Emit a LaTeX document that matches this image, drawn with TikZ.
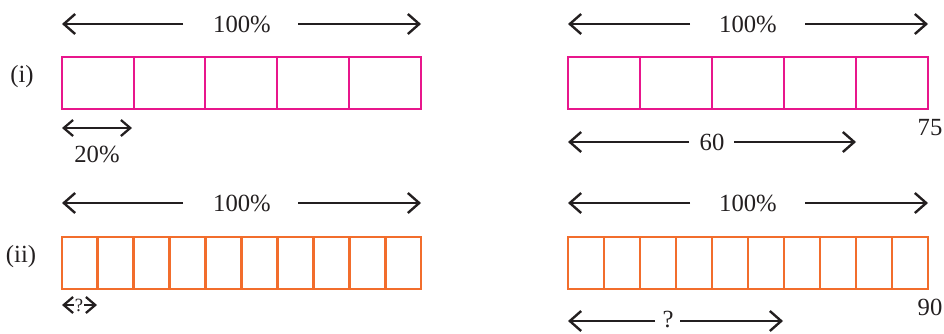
\documentclass[tikz,border=0pt]{standalone}
\usepackage{fontspec}
\setmainfont{Liberation Serif}
\usetikzlibrary{arrows.meta}
\definecolor{mag}{HTML}{E8168C}
\definecolor{org}{HTML}{F26D2C}
\definecolor{ink}{HTML}{231F20}
\tikzset{
  arr/.style={draw=ink, line width=1.8pt, -{Straight Barb[length=8.5pt,width=15pt,line width=1.8pt]}},
  sarr/.style={draw=ink, line width=1.7pt, {Straight Barb[length=7pt,width=12pt,line width=1.7pt]}-{Straight Barb[length=7pt,width=12pt,line width=1.7pt]}},
  lbl/.style={inner sep=0pt, text=ink, font=\fontsize{18.5}{20}\selectfont},
  small/.style={inner sep=0.5pt, fill=white, text=ink, font=\fontsize{14}{15}\selectfont},
  barm/.style={draw=mag, line width=2.2pt},
  baro/.style={draw=org, line width=2.2pt},
}
\begin{document}
\begin{tikzpicture}[x=0.75pt,y=-0.75pt]
\useasboundingbox (0,0) rectangle (944,333);
% ---------- row (i), left ----------
\node[lbl] (ri) at (22,77) {(i)};
\node[lbl] (pA) at (242,24) {100\%};
\coordinate (pAl0) at (183,24); \coordinate (pAl1) at (62,24);
\coordinate (pAr0) at (298,24); \coordinate (pAr1) at (421,24);
\draw[arr] (pAl0) -- (pAl1);
\draw[arr] (pAr0) -- (pAr1);
\draw[barm] (62,57) rectangle (421,109);
\foreach \x in {134,205,277,349} \draw[barm] (\x,57) -- (\x,109);
\coordinate (tw0) at (62,128); \coordinate (tw1) at (132,128);
\draw[sarr] (tw0) -- (tw1);
\node[lbl] (tw) at (97,154) {20\%};
% ---------- row (i), right ----------
\node[lbl] (pB) at (748,24) {100\%};
\coordinate (pBl0) at (690,24); \coordinate (pBl1) at (568,24);
\coordinate (pBr0) at (805,24); \coordinate (pBr1) at (928,24);
\draw[arr] (pBl0) -- (pBl1);
\draw[arr] (pBr0) -- (pBr1);
\draw[barm] (568,57) rectangle (928,109);
\foreach \x in {640,712,784,856} \draw[barm] (\x,57) -- (\x,109);
\node[lbl] (sf) at (930,128) {75};
\node[lbl] (sx) at (712,142) {60};
\coordinate (sxl0) at (689,142); \coordinate (sxl1) at (568,142);
\coordinate (sxr0) at (734,142); \coordinate (sxr1) at (856,142);
\draw[arr] (sxl0) -- (sxl1);
\draw[arr] (sxr0) -- (sxr1);
% ---------- row (ii), left ----------
\node[lbl] (rii) at (21,257) {(ii)};
\node[lbl] (pC) at (242,203) {100\%};
\coordinate (pCl0) at (183,203); \coordinate (pCl1) at (62,203);
\coordinate (pCr0) at (298,203); \coordinate (pCr1) at (421,203);
\draw[arr] (pCl0) -- (pCl1);
\draw[arr] (pCr0) -- (pCr1);
\draw[baro] (62,237) rectangle (421,289);
\foreach \i in {1,...,9} \draw[baro] ({62+35.9*\i},237) -- ({62+35.9*\i},289);
\coordinate (qa0) at (62,305); \coordinate (qa1) at (97,305);
\draw[sarr] (qa0) -- (qa1);
\node[small] (qa) at (79,305) {?};
% ---------- row (ii), right ----------
\node[lbl] (pD) at (748,203) {100\%};
\coordinate (pDl0) at (690,203); \coordinate (pDl1) at (568,203);
\coordinate (pDr0) at (805,203); \coordinate (pDr1) at (928,203);
\draw[arr] (pDl0) -- (pDl1);
\draw[arr] (pDr0) -- (pDr1);
\draw[baro] (568,237) rectangle (928,289);
\foreach \i in {1,...,9} \draw[baro] ({568+36*\i},237) -- ({568+36*\i},289);
\node[lbl] (nn) at (930,307) {90};
\node[lbl] (qb) at (668,319) {?};
\coordinate (qbl0) at (655,321) ; \coordinate (qbl1) at (568,321);
\coordinate (qbr0) at (680,321); \coordinate (qbr1) at (783,321);
\draw[arr] (qbl0) -- (qbl1);
\draw[arr] (qbr0) -- (qbr1);
\end{tikzpicture}
\end{document}
